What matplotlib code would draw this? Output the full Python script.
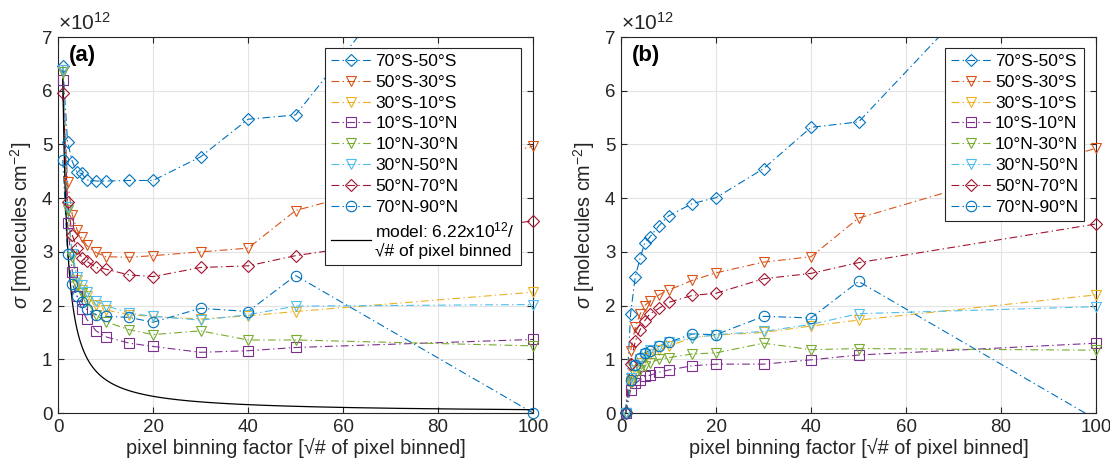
import numpy as np
import matplotlib
matplotlib.use("Agg")
import matplotlib.pyplot as plt
from matplotlib.lines import Line2D

plt.rcParams['font.family'] = ['Liberation Sans', 'DejaVu Sans']
plt.rcParams['mathtext.fontset'] = 'custom'
plt.rcParams['mathtext.rm'] = 'Liberation Sans'
plt.rcParams['mathtext.it'] = 'Liberation Sans:italic'

bin_factor = [1, 2, 3, 4, 5, 6, 8, 10, 15, 20, 30, 40, 50, 100]
regions = ["70°S-50°S", "50°S-30°S", "30°S-10°S", "10°S-10°N",
           "10°N-30°N", "30°N-50°N", "50°N-70°N", "70°N-90°N"]
colors = ["#0072BD", "#D95319", "#EDB120", "#7E2F8E",
          "#77AC30", "#4DBEEE", "#A2142F", "#0072BD"]
markers = ["D", "v", "v", "s", "v", "v", "D", "o"]

# panel (a), units of 1e12 molecules cm-2
sigma_a = [
    [6.46, 5.05, 4.68, 4.48, 4.46, 4.34, 4.32, 4.32, 4.33, 4.33, 4.77, 5.47, 5.55, 11.1],
    [6.38, 4.30, 3.69, 3.41, 3.27, 3.12, 2.99, 2.91, 2.90, 2.93, 3.00, 3.07, 3.77, 4.97],
    [6.35, 3.84, 2.97, 2.48, 2.29, 2.17, 2.01, 1.92, 1.83, 1.80, 1.75, 1.81, 1.89, 2.25],
    [6.20, 3.53, 2.63, 2.17, 1.94, 1.75, 1.53, 1.42, 1.30, 1.24, 1.13, 1.16, 1.22, 1.37],
    [6.35, 3.78, 2.91, 2.39, 2.23, 2.08, 1.83, 1.70, 1.55, 1.46, 1.53, 1.36, 1.36, 1.25],
    [6.38, 3.84, 2.97, 2.54, 2.39, 2.26, 2.08, 2.00, 1.86, 1.80, 1.73, 1.83, 1.99, 2.02],
    [5.95, 3.92, 3.31, 3.07, 2.89, 2.83, 2.71, 2.68, 2.57, 2.54, 2.71, 2.74, 2.93, 3.58],
    [4.71, 2.96, 2.40, 2.18, 2.06, 1.93, 1.83, 1.80, 1.78, 1.69, 1.95, 1.89, 2.56, 0.00],
]

# panel (b)
sigma_b = [
    [0.02, 1.84, 2.54, 2.88, 3.17, 3.27, 3.49, 3.67, 3.90, 4.01, 4.55, 5.32, 5.42, 10.1],
    [0.00, 1.15, 1.60, 1.84, 2.00, 2.08, 2.20, 2.29, 2.47, 2.61, 2.81, 2.91, 3.63, 4.93],
    [0.00, 0.60, 0.80, 0.93, 1.03, 1.10, 1.18, 1.25, 1.40, 1.45, 1.50, 1.62, 1.73, 2.20],
    [0.00, 0.43, 0.55, 0.62, 0.68, 0.70, 0.76, 0.80, 0.88, 0.91, 0.91, 0.99, 1.08, 1.30],
    [0.00, 0.55, 0.70, 0.80, 0.88, 0.93, 1.00, 1.03, 1.10, 1.12, 1.30, 1.18, 1.20, 1.17],
    [0.00, 0.65, 0.87, 1.00, 1.10, 1.17, 1.25, 1.32, 1.40, 1.46, 1.52, 1.65, 1.85, 1.98],
    [0.00, 0.92, 1.34, 1.55, 1.72, 1.84, 1.95, 2.06, 2.19, 2.23, 2.50, 2.60, 2.80, 3.52],
    [0.00, 0.62, 0.89, 1.02, 1.12, 1.16, 1.24, 1.32, 1.47, 1.46, 1.80, 1.77, 2.45, -0.12],
]

model_coef = 6.22
dashdot = (0, (7, 3, 1.2, 3))
ink = "#262626"

fig = plt.figure(figsize=(11.1, 4.67), dpi=100)
ax_a = fig.add_axes([0.0523, 0.1156, 0.428, 0.805])
ax_b = fig.add_axes([0.5595, 0.1156, 0.428, 0.805])


def draw_panel(ax, data, tag):
    handles = []
    for vals, name, c, m in zip(data, regions, colors, markers):
        x = np.array(bin_factor, dtype=float)
        y = np.array(vals)
        ax.plot(x, y, color=c, linestyle=dashdot, linewidth=0.8)
        keep = (y >= 0) & (y <= 7)
        ms = 6.5 if m == "D" else 7.5
        ax.plot(x[keep], y[keep], linestyle="none", marker=m, markersize=ms,
                markerfacecolor="none", markeredgecolor=c, markeredgewidth=0.8,
                clip_on=False, zorder=3)
        handles.append(Line2D([], [], color=c, linestyle=dashdot, linewidth=0.8,
                              marker=m, markersize=ms, markerfacecolor="none",
                              markeredgewidth=0.8, label=name))
    ax.set_xlim(0, 100)
    ax.set_ylim(0, 7)
    ax.set_xticks(range(0, 101, 20))
    ax.set_yticks(range(0, 8))
    ax.grid(True, color="#e3e3e3", linewidth=0.8)
    ax.set_axisbelow(True)
    ax.tick_params(direction="in", top=True, right=True, labelsize=13.5,
                   color=ink, labelcolor=ink, length=4, pad=4)
    for s in ax.spines.values():
        s.set_color(ink)
        s.set_linewidth(0.8)
    ax.set_xlabel("pixel binning factor [√# of pixel binned]", fontsize=14.3,
                  color=ink, labelpad=2)
    ax.set_ylabel(r"$\sigma$ [molecules cm$^{-2}$]", fontsize=14.3,
                  color=ink, labelpad=6)
    ax.text(0.0, 1.008, r"$\times10^{12}$", transform=ax.transAxes,
            fontsize=15, color=ink, ha="left", va="bottom")
    ax.text(0.022, 0.978, tag, transform=ax.transAxes, fontsize=16,
            fontweight="bold", ha="left", va="top")
    return handles


h_a = draw_panel(ax_a, sigma_a, "(a)")
xm = np.linspace(1, 100, 400)
ax_a.plot(xm, model_coef / xm, color="black", linewidth=0.9)
h_a.append(Line2D([], [], color="black", linewidth=0.9,
                  label="model: 6.22x10$^{12}$/\n√# of pixel binned"))
leg_a = ax_a.legend(handles=h_a, loc="upper right", bbox_to_anchor=(0.975, 0.972),
                    fontsize=12.5, handlelength=2.3, labelspacing=0.33,
                    fancybox=False, edgecolor=ink, framealpha=1,
                    borderpad=0.35, handletextpad=0.25, borderaxespad=0)
leg_a.get_frame().set_linewidth(0.8)

h_b = draw_panel(ax_b, sigma_b, "(b)")
leg_b = ax_b.legend(handles=h_b, loc="upper right", bbox_to_anchor=(0.975, 0.972),
                    fontsize=12.5, handlelength=2.3, labelspacing=0.33,
                    fancybox=False, edgecolor=ink, framealpha=1,
                    borderpad=0.35, handletextpad=0.25, borderaxespad=0)
leg_b.get_frame().set_linewidth(0.8)

fig.savefig("out.png", dpi=100)
